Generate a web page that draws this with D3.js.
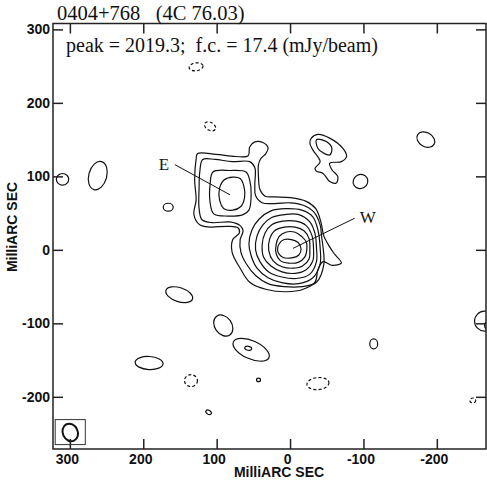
<!DOCTYPE html>
<html>
<head>
<meta charset="utf-8">
<script src="https://cdn.jsdelivr.net/npm/d3@7"></script>
<style>
  html, body { margin: 0; padding: 0; background: #fff; }
  #container { width: 487px; height: 483px; }
</style>
</head>
<body>
<div id="container"></div>
<script>
// 0404+768 (4C 76.03) contour map, coordinates in milliarcsec (RA grows to the left)

const xTicks = [300, 200, 100, 0, -100, -200];
const yTicks = [300, 200, 100, 0, -100, -200];

// --- contours traced from the map: [x mas, y mas] ---
// lowest level: E and W joined, with the small knob north of the neck
const contourL1 = [
  [-54, 4], [-60, -5], [-70, -18], [-57, -21], [-45, -16], [-38, -27], [-34, -44],
  [-17, -54], [4, -57], [32, -54], [55, -44], [68, -25], [79, -3], [78, 14],
  [69, 23], [71, 30], [85, 32], [109, 31], [123, 34], [131, 48], [128, 68],
  [130, 95], [128, 123], [126, 131], [101, 130], [74, 127], [57, 128], [55, 140],
  [48, 147], [37, 146], [30, 139], [33, 131], [40, 124], [43, 116], [43, 99],
  [41, 82], [34, 73], [21, 72], [0, 71], [-22, 66], [-35, 56], [-42, 38], [-46, 19]
];
const contourL2 = [
  [-45, 3], [-46, -20], [-36, -44], [-16, -50], [8, -50], [30, -46], [47, -35],
  [59, -20], [67, -3], [68, 14], [64, 26], [68, 33], [82, 38], [106, 37],
  [120, 41], [124, 57], [124, 82], [123, 106], [119, 123], [102, 123], [79, 120],
  [55, 120], [48, 112], [48, 88], [47, 74], [38, 64], [21, 63], [0, 64],
  [-17, 61], [-32, 52], [-41, 34], [-43, 18]
];
const eastL3 = [
  [105, 106], [82, 108], [60, 106], [55, 95], [53, 75], [56, 54], [64, 48],
  [85, 46], [104, 49], [109, 65], [109, 88]
];
const eastL4 = [
  [78, 99], [68, 97], [63, 87], [62, 71], [67, 59], [78, 54], [90, 56],
  [96, 68], [96, 84], [90, 95]
];
const westL3 = [
  [-41, 3], [-41, -19], [-31, -38], [-12, -46], [10, -45], [30, -38], [45, -25],
  [53, -8], [56, 8], [52, 27], [42, 42], [26, 53], [6, 56], [-16, 54],
  [-31, 45], [-38, 27]
];
const westL4 = [
  [-36, 3], [-36, -16], [-27, -33], [-9, -39], [11, -37], [29, -30], [41, -16],
  [47, 0], [45, 19], [37, 34], [25, 44], [7, 48], [-12, 48], [-27, 38], [-34, 22]
];
const westL5 = [
  [-32, 1], [-31, -15], [-22, -27], [-7, -32], [11, -30], [26, -22], [36, -10],
  [38, 7], [34, 23], [25, 34], [10, 39], [-8, 39], [-22, 33], [-30, 19]
];
const westL6 = [
  [-27, 1], [-26, -12], [-17, -22], [-4, -25], [11, -23], [23, -15], [29, -1],
  [28, 14], [21, 26], [8, 31], [-7, 31], [-19, 26], [-26, 15]
];
const westL7 = [
  [-23, 3], [-20, -10], [-11, -17], [2, -18], [13, -15], [19, -5], [19, 7],
  [15, 18], [6, 24], [-7, 24], [-16, 18], [-22, 11]
];
const westL8 = [
  [-15, 1], [-12, -7], [-2, -11], [10, -10], [17, -1], [15, 8], [8, 14],
  [-2, 14], [-11, 10]
];
// north-east patch with its inner loop
const patchNE = [
  [-29, 152], [-38, 157], [-54, 152], [-72, 138], [-77, 127], [-70, 120],
  [-54, 118], [-57, 109], [-65, 100], [-63, 91], [-54, 93], [-45, 104],
  [-36, 107], [-34, 111], [-41, 120], [-31, 136], [-27, 145]
];
const patchNEinner = [
  [-36, 150], [-50, 147], [-57, 138], [-54, 129], [-45, 132], [-38, 138]
];

// small isolated blobs: [x, y, rx, ry, tilt deg, dashed]
const blobs = [
  [128, 249, 9.5, 5.4, -8, true],
  [109, 168, 8.2, 5.4, 30, true],
  [-96, 93, 10.2, 9.5, -30, false],
  [-185, 150, 13, 9.5, 30, false],
  [310, 96, 8.4, 7.9, 0, false],
  [262, 101, 12.3, 19.7, 15, false],
  [166, 58, 6.8, 5.4, 0, false],
  [151, -61, 19, 9.5, 18, false],
  [91, -103, 15.6, 11.6, 55, false],
  [53, -136, 26.5, 12.3, 24, false],
  [57, -134, 4.8, 2.7, 10, false],
  [192, -154, 19, 8.9, 3, false],
  [135, -178, 8.8, 8.2, 0, true],
  [43, -177, 2.7, 2.4, 0, false],
  [-38, -182, 15, 8.2, -5, true],
  [111, -221, 4, 2.7, 30, false],
  [-114, -128, 5.4, 6.8, 0, false],
  [-265, -97, 13.6, 13.6, 0, false],
  [-273, -103, 8, 7, 0, false],
  [-249, -205, 4, 3.4, 0, true]
];

// beam: box corners and restoring beam ellipse
const beamBox = [320, -231, 279, -265];
const beam = [299.5, -248.5, 10.2, 12.3, -25];

// component labels: [text, label x, label y, pointer from, pointer to]
const labels = [
  ["E", 179, 109, [157, 116], [82, 75]],
  ["W", -95, 36, [-88, 43], [-4, 2]]
];

const title = "0404+768   (4C 76.03)";
const subtitle = "peak = 2019.3;  f.c. = 17.4 (mJy/beam)";
const axisTitle = "MilliARC SEC";

// --- layout ---
const W = 487, H = 483;
const x = d3.scaleLinear().domain([323, -267]).range([53, 486]);
const y = d3.scaleLinear().domain([308, -271]).range([23.5, 449]);
const [x0, x1] = x.range();
const [y0, y1] = y.range();

const svg = d3.select("#container").append("svg")
  .attr("width", W).attr("height", H)
  .style("font-family", "'Liberation Sans', Arial, sans-serif");

svg.append("defs").append("clipPath").attr("id", "plot")
  .append("rect").attr("x", x0).attr("y", y0)
  .attr("width", x1 - x0).attr("height", y1 - y0);

const g = svg.append("g").attr("clip-path", "url(#plot)");

const line = d3.line()
  .x(d => x(d[0])).y(d => y(d[1]))
  .curve(d3.curveCatmullRomClosed.alpha(0.5));

const closed = [contourL1, contourL2, eastL3, eastL4, westL3, westL4,
  westL5, westL6, westL7, westL8, patchNE, patchNEinner];

g.selectAll("path.c").data(closed).join("path")
  .attr("class", "c")
  .attr("d", line)
  .attr("fill", "none")
  .attr("stroke", "#111")
  .attr("stroke-width", 1.2);

const sx = v => Math.abs(x(v) - x(0));
const sy = v => Math.abs(y(v) - y(0));

g.selectAll("ellipse.b").data(blobs).join("ellipse")
  .attr("class", "b")
  .attr("cx", d => x(d[0])).attr("cy", d => y(d[1]))
  .attr("rx", d => sx(d[2])).attr("ry", d => sy(d[3]))
  .attr("transform", d => `rotate(${d[4]},${x(d[0])},${y(d[1])})`)
  .attr("fill", "none")
  .attr("stroke", "#111")
  .attr("stroke-width", 1.2)
  .attr("stroke-dasharray", d => d[5] ? "3,2.2" : null);

// pointers and labels
labels.forEach(([txt, lx, ly, a, b]) => {
  g.append("line")
    .attr("x1", x(a[0])).attr("y1", y(a[1]))
    .attr("x2", x(b[0])).attr("y2", y(b[1]))
    .attr("stroke", "#111").attr("stroke-width", 1);
  svg.append("text")
    .attr("x", x(lx)).attr("y", y(ly))
    .style("font-family", "'Liberation Serif', 'Times New Roman', serif")
    .style("font-size", "17px")
    .attr("fill", "#111")
    .text(txt);
});

// beam box
svg.append("rect")
  .attr("x", x(beamBox[0])).attr("y", y(beamBox[1]))
  .attr("width", x(beamBox[2]) - x(beamBox[0]))
  .attr("height", y(beamBox[3]) - y(beamBox[1]))
  .attr("fill", "none").attr("stroke", "#333").attr("stroke-width", 1);
svg.append("ellipse")
  .attr("cx", x(beam[0])).attr("cy", y(beam[1]))
  .attr("rx", sx(beam[2])).attr("ry", sy(beam[3]))
  .attr("transform", `rotate(${beam[4]},${x(beam[0])},${y(beam[1])})`)
  .attr("fill", "none").attr("stroke", "#111").attr("stroke-width", 2);

// --- axes, ticks inside on all four sides ---
const fmt = d => String(d); // plain hyphen for negatives, as on the plot
const styleAxis = sel => {
  sel.select(".domain").remove();
  sel.selectAll("line").attr("stroke", "#222").attr("stroke-width", 1.5);
  sel.selectAll("text").attr("fill", "#111")
    .style("font-size", "14px").style("font-weight", "bold");
};

svg.append("g").attr("transform", `translate(0,${y1})`)
  .call(d3.axisBottom(x).tickValues(xTicks).tickFormat(fmt)
    .tickSizeInner(-10).tickSizeOuter(0).tickPadding(5))
  .call(styleAxis)
  .call(s => s.selectAll("text").attr("dx", -3));

svg.append("g").attr("transform", `translate(${x0},0)`)
  .call(d3.axisLeft(y).tickValues(yTicks).tickFormat(fmt)
    .tickSizeInner(-10).tickSizeOuter(0).tickPadding(3))
  .call(styleAxis);

svg.append("g").attr("transform", `translate(0,${y0})`)
  .call(d3.axisTop(x).tickValues(xTicks).tickSizeInner(-10).tickSizeOuter(0).tickFormat(""))
  .call(styleAxis);

svg.append("g").attr("transform", `translate(${x1},0)`)
  .call(d3.axisRight(y).tickValues(yTicks).tickSizeInner(-10).tickSizeOuter(0).tickFormat(""))
  .call(styleAxis);

// frame
svg.append("rect")
  .attr("x", x0).attr("y", y0)
  .attr("width", x1 - x0).attr("height", y1 - y0)
  .attr("fill", "none").attr("stroke", "#222").attr("stroke-width", 1.5);

// axis titles
svg.append("text")
  .attr("x", 279).attr("y", 477)
  .attr("text-anchor", "middle")
  .style("font-size", "14px").style("font-weight", "bold")
  .attr("fill", "#111")
  .text(axisTitle);

svg.append("text")
  .attr("transform", "translate(16.5,227) rotate(-90)")
  .attr("text-anchor", "middle")
  .style("font-size", "14px").style("font-weight", "bold")
  .attr("fill", "#111")
  .text(axisTitle);

// titles
svg.append("text")
  .attr("x", 57).attr("y", 20)
  .attr("xml:space", "preserve").style("white-space", "pre")
  .style("font-family", "'Liberation Serif', 'Times New Roman', serif")
  .style("font-size", "20.5px").attr("fill", "#111")
  .text(title);

svg.append("text")
  .attr("x", 66).attr("y", 52)
  .attr("xml:space", "preserve").style("white-space", "pre")
  .style("font-family", "'Liberation Serif', 'Times New Roman', serif")
  .style("font-size", "20px").attr("fill", "#111")
  .text(subtitle);
</script>
</body>
</html>
